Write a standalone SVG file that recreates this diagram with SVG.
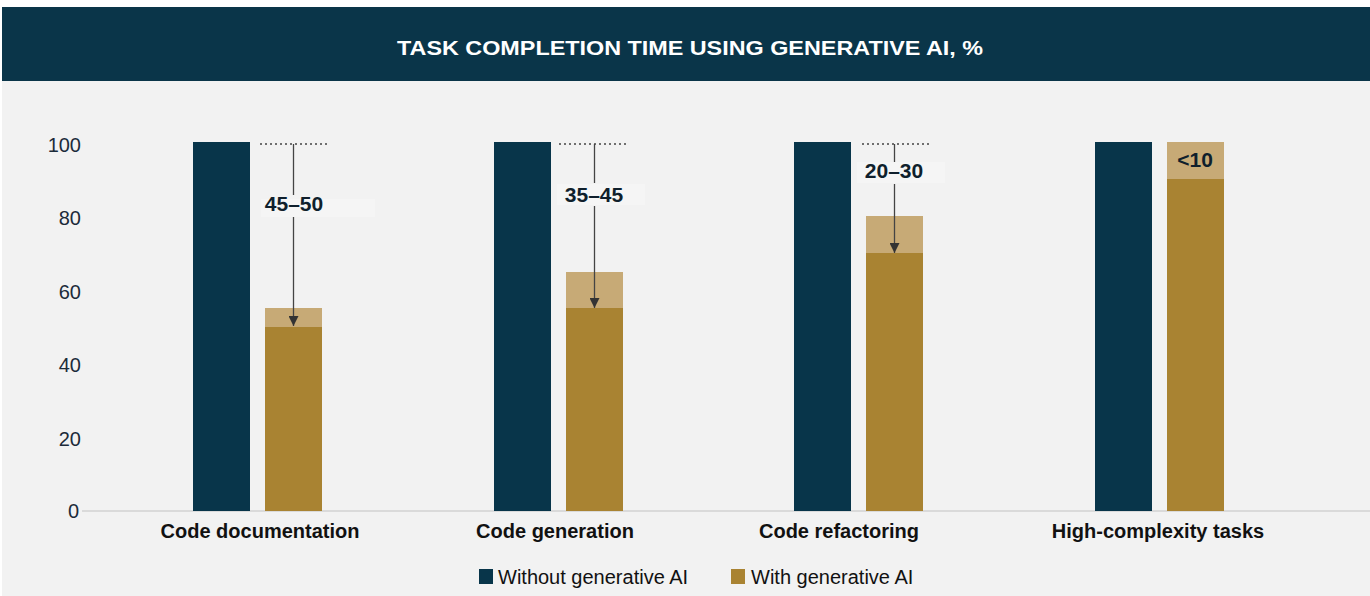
<svg xmlns="http://www.w3.org/2000/svg" width="1370" height="596" viewBox="0 0 1370 596">
  <defs>
    <style>
      .tick { font-family: "Liberation Sans", Arial, sans-serif; font-size: 20px; fill: #1c2b3a; text-anchor: end; }
      .cat { font-family: "Liberation Sans", Arial, sans-serif; font-size: 20px; font-weight: bold; fill: #111111; text-anchor: middle; }
      .val { font-family: "Liberation Sans", Arial, sans-serif; font-size: 21px; font-weight: bold; fill: #0f1f2c; text-anchor: middle; }
      .leg { font-family: "Liberation Sans", Arial, sans-serif; font-size: 20px; fill: #111111; }
      .navy { fill: #08354a; }
      .gold { fill: #a98332; }
      .lgold { fill: #c7aa76; }
      .dots { stroke: #444444; stroke-width: 1.5; stroke-dasharray: 2 3; fill: none; }
      .arr { stroke: #444444; stroke-width: 1.3; fill: none; }
      .lblbg { fill: #f5f5f5; }
    </style>
    <marker id="ah" viewBox="0 0 10 10" refX="10" refY="5" markerWidth="11" markerHeight="10" markerUnits="userSpaceOnUse" orient="auto">
      <path d="M0,0 L10,5 L0,10 z" fill="#333333"/>
    </marker>
  </defs>

  <rect x="0" y="0" width="1370" height="596" fill="#ffffff"/>
  <rect x="2" y="81" width="1368" height="515" fill="#f2f2f2"/>

  <g id="header">
    <rect x="2" y="7" width="1368" height="74" fill="#0a3549"/>
    <text x="690" y="55" font-family="Liberation Sans, Arial, sans-serif" font-size="20" font-weight="bold" fill="#ffffff" text-anchor="middle" textLength="586" lengthAdjust="spacingAndGlyphs">TASK COMPLETION TIME USING GENERATIVE AI, %</text>
  </g>

  <g id="axis">
    <text class="tick" x="81" y="152">100</text>
    <text class="tick" x="81" y="225">80</text>
    <text class="tick" x="81" y="299">60</text>
    <text class="tick" x="81" y="372">40</text>
    <text class="tick" x="81" y="446">20</text>
    <text class="tick" x="79" y="518">0</text>
    <line x1="82" y1="511" x2="1370" y2="511" stroke="#d2d2d2" stroke-width="1.5"/>
  </g>

  <g id="code-documentation">
    <rect class="navy" x="193" y="142" width="57" height="369"/>
    <rect class="lgold" x="265" y="308" width="57" height="19"/>
    <rect class="gold" x="265" y="327" width="57" height="184"/>
    <text class="cat" x="260" y="538">Code documentation</text>
  </g>

  <g id="code-generation">
    <rect class="navy" x="494" y="142" width="57" height="369"/>
    <rect class="lgold" x="566" y="272" width="57" height="36"/>
    <rect class="gold" x="566" y="308" width="57" height="203"/>
    <text class="cat" x="555" y="538">Code generation</text>
  </g>

  <g id="code-refactoring">
    <rect class="navy" x="794" y="142" width="57" height="369"/>
    <rect class="lgold" x="866" y="216" width="57" height="37"/>
    <rect class="gold" x="866" y="253" width="57" height="258"/>
    <text class="cat" x="839" y="538">Code refactoring</text>
  </g>

  <g id="high-complexity-tasks">
    <rect class="navy" x="1095" y="142" width="57" height="369"/>
    <rect class="lgold" x="1167" y="142" width="57" height="37"/>
    <rect class="gold" x="1167" y="179" width="57" height="332"/>
    <text class="val" x="1195" y="167" font-size="19">&lt;10</text>
    <text class="cat" x="1158" y="538">High-complexity tasks</text>
  </g>

  <g id="connectors">
    <line class="dots" x1="260" y1="144" x2="329" y2="144"/>
    <line class="arr" x1="293.5" y1="144" x2="293.5" y2="195"/>
    <line class="arr" x1="293.5" y1="217" x2="293.5" y2="326" marker-end="url(#ah)"/>

    <line class="dots" x1="559" y1="144" x2="628" y2="144"/>
    <line class="arr" x1="594.5" y1="144" x2="594.5" y2="183"/>
    <line class="arr" x1="594.5" y1="206" x2="594.5" y2="308" marker-end="url(#ah)"/>

    <line class="dots" x1="862" y1="144" x2="931" y2="144"/>
    <line class="arr" x1="894.5" y1="144" x2="894.5" y2="162"/>
    <line class="arr" x1="894.5" y1="184" x2="894.5" y2="253" marker-end="url(#ah)"/>
  </g>

  <g id="labels">
    <rect class="lblbg" x="261" y="199" width="114" height="18"/>
    <text class="val" x="294" y="211" fill="#111111">45–50</text>
    <rect class="lblbg" x="557" y="184" width="88" height="21"/>
    <text class="val" x="594" y="202">35–45</text>
    <rect class="lblbg" x="857" y="162" width="88" height="21"/>
    <text class="val" x="894" y="178">20–30</text>
  </g>

  <g id="legend">
    <rect class="navy" x="479" y="569" width="14" height="15"/>
    <text class="leg" x="498" y="584">Without generative AI</text>
    <rect class="gold" x="731" y="569" width="14" height="15"/>
    <text class="leg" x="751" y="584">With generative AI</text>
  </g>
</svg>
